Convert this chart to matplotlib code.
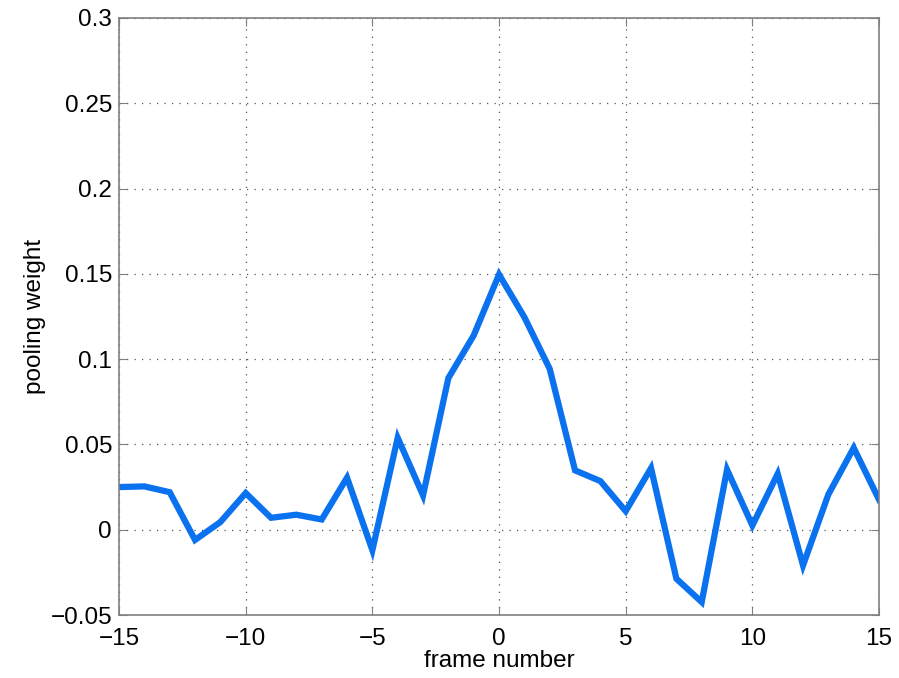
import numpy as np
import matplotlib
matplotlib.use("Agg")
import matplotlib.pyplot as plt

# Donnees
frames = list(range(-15, 16))
weights = [0.025, 0.0254, 0.022, -0.006, 0.0045, 0.0215, 0.007, 0.0088, 0.006, 0.0305,
           -0.012, 0.0539, 0.0201, 0.0889, 0.1139, 0.1496, 0.1246, 0.0943, 0.0348, 0.0285,
           0.0109, 0.0361, -0.0287, -0.0424, 0.0352, 0.0025, 0.0328, -0.0209, 0.0207, 0.048,
           0.0176]

xticks = [-15, -10, -5, 0, 5, 10, 15]
yticks = [-0.05, 0, 0.05, 0.1, 0.15, 0.2, 0.25, 0.3]
ytick_labels = ["\u22120.05", "0", "0.05", "0.1", "0.15", "0.2", "0.25", "0.3"]
xtick_labels = ["\u221215", "\u221210", "\u22125", "0", "5", "10", "15"]

plt.rcParams["font.family"] = ["Liberation Sans", "DejaVu Sans"]

fig = plt.figure(figsize=(8.99, 6.78), dpi=100)
ax = fig.add_axes([0.1324, 0.0929, 0.8454, 0.8806])

ax.plot(frames, weights, color="#0a72ee", linewidth=4.5, solid_joinstyle="miter")

ax.set_xlim(-15, 15)
ax.set_ylim(-0.05, 0.3)
ax.set_xticks(xticks)
ax.set_xticklabels(xtick_labels)
ax.set_yticks(yticks)
ax.set_yticklabels(ytick_labels)
ax.grid(True, linestyle=(0, (1, 5)), color="#555555", linewidth=0.9)
ax.tick_params(direction="in", length=6, color="#808080", labelsize=17.5,
               top=True, right=True, pad=5)
ax.tick_params(axis="x", pad=9)
for s in ax.spines.values():
    s.set_color("#808080")
    s.set_linewidth(1.2)

ax.set_xlabel("frame number", fontsize=17.5, labelpad=0)
ax.set_ylabel("pooling weight", fontsize=17.5, labelpad=3)

fig.savefig("out.png", dpi=100)
